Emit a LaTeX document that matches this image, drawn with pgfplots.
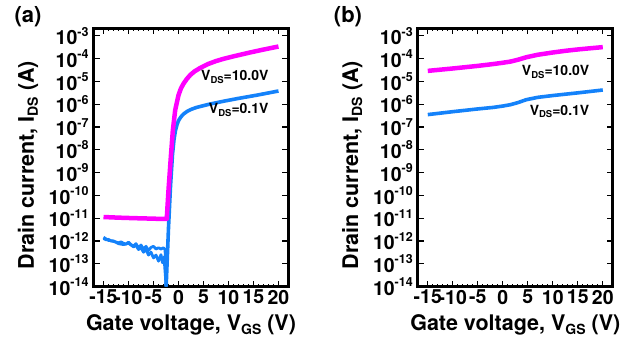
\documentclass[border=0pt]{standalone}
\usepackage{fontspec}
\setmainfont{TeX Gyre Heros}
\usepackage{pgfplots}
\pgfplotsset{compat=1.18}
\definecolor{mag}{RGB}{255,0,255}
\definecolor{blu}{RGB}{20,130,250}
\newcommand{\sub}[1]{\raisebox{-4bp}{\fontsize{14bp}{14bp}\selectfont #1}}
\newcommand{\ssub}[1]{\raisebox{-2.5bp}{\fontsize{9.5bp}{9.5bp}\selectfont #1}}
\newcommand{\sups}[1]{\raisebox{8.5bp}{\fontsize{12.5bp}{12.5bp}\selectfont #1}}
\begin{document}
\begin{tikzpicture}
\path[use as bounding box, fill=white] (0,0) rectangle (629bp,343bp);
% ---------------- (a)
\begin{axis}[at={(93.5bp,56.5bp)}, anchor=south west,
  scale only axis, width=195bp, height=258bp, clip mode=individual,
  ymode=log, log basis y=10,
  xmin=-17, xmax=22, ymin=1e-14, ymax=2.1e-3,
  xtick={-15,-10,-5,0,5,10,15,20},
  xticklabels={-15,-10,-5,0,5,10,15,20},
  minor x tick num=4,
  ytick={1e-14,1e-13,1e-12,1e-11,1e-10,1e-9,1e-8,1e-7,1e-6,1e-5,1e-4,1e-3},
  yticklabels={10\sups{-14},10\sups{-13},10\sups{-12},10\sups{-11},10\sups{-10},10\sups{-9},10\sups{-8},10\sups{-7},10\sups{-6},10\sups{-5},10\sups{-4},10\sups{-3}},
  tick align=inside, major tick length=6bp, minor tick length=3bp,
  tick style={black, line width=1.2bp},
  axis line style={line width=2.8bp},
  ticklabel style={font=\fontsize{19.5bp}{19.5bp}\selectfont\bfseries},
  yticklabel style={xshift=-1.5bp},
  xlabel={Gate voltage, V\sub{GS} (V)},
  ylabel={Drain current, I\sub{DS} (A)},
  xlabel style={font=\fontsize{21.5bp}{22bp}\selectfont\bfseries, at={(axis description cs:0.5,-0.149)},anchor=center},
  ylabel style={font=\fontsize{21.5bp}{22bp}\selectfont\bfseries, at={(axis description cs:-0.336,0.47)},anchor=center},
]
% blue off-state branch 1
\addplot[blu, line width=2.8bp, line join=round] coordinates {
(-15,1.29e-12) (-14.5,1.12e-12) (-14,1.17e-12) (-13.5,1.0e-12) (-13,9.5e-13)
(-12.5,8.9e-13) (-12,8.3e-13) (-11.5,9.1e-13) (-11,7.9e-13) (-10.5,7.2e-13)
(-10,8.9e-13) (-9.5,6.9e-13) (-9,6.0e-13) (-8.5,7.6e-13) (-8,5.0e-13)
(-7.5,6.6e-13) (-7,4.4e-13) (-6.5,5.8e-13) (-6,3.8e-13) (-5.5,5.2e-13)
(-5,5.8e-13) (-4.5,4.4e-13) (-4,5.0e-13) (-3.5,4.4e-13) (-3,5.0e-13)
(-2.7,4.2e-13) (-2.55,1.0e-13) (-2.47,1e-14)};
% blue off-state branch 2
\addplot[blu, line width=2.8bp, line join=round] coordinates {
(-15,1.45e-12) (-14,1.05e-12) (-13,1.0e-12) (-12,7.6e-13) (-11,6.9e-13)
(-10,7.9e-13) (-9,5.5e-13) (-8.5,6.3e-13) (-8,4.2e-13) (-7.5,5.0e-13)
(-7,3.2e-13) (-6.5,4.2e-13) (-6,2.4e-13) (-5.5,3.2e-13) (-5,1.8e-13)
(-4.5,2.4e-13) (-4,1.3e-13) (-3.5,2.5e-13) (-3.2,1.1e-13) (-2.9,2.0e-13)
(-2.7,5.0e-14) (-2.6,2.5e-14) (-2.5,1e-14)};
% blue on-state, VDS = 0.1 V
\addplot[blu, line width=3.6bp, line join=round] coordinates {
(-2.47,1e-14) (-2.0,3.7e-12) (-1.6,2.5e-10) (-1.2,6.3e-9) (-0.9,2.8e-8)
(-0.6,7.1e-8) (-0.3,1.26e-7) (0,1.9e-7) (0.5,2.8e-7) (1.0,3.7e-7)
(1.7,4.8e-7) (2.5,5.9e-7) (3.5,7.1e-7) (4.5,8.1e-7) (6,9.8e-7)
(7.5,1.15e-6) (9,1.35e-6) (12,1.8e-6) (15.7,2.5e-6) (20,3.8e-6)};
% magenta, VDS = 10 V
\addplot[mag, line width=4.5bp, line join=round] coordinates {
(-15,1.12e-11) (-12,1.05e-11) (-9,1.0e-11) (-6,9.6e-12) (-3,9.2e-12)
(-2.35,9.3e-12) (-2.0,1.7e-10) (-1.53,4.9e-9) (-1.13,7.2e-8) (-0.66,5.5e-7)
(-0.3,1.26e-6) (0,2.5e-6) (0.5,5.0e-6) (1.0,7.9e-6) (1.6,1.23e-5)
(2.34,1.9e-5) (3.2,2.75e-5) (4.34,3.9e-5) (6,5.9e-5) (7.5,7.8e-5)
(9,9.8e-5) (11,1.26e-4) (14.3,1.86e-4) (17,2.5e-4) (20,3.4e-4)};
\node[anchor=east, font=\fontsize{14bp}{14bp}\selectfont\bfseries] at (axis cs:18.7,1.6e-5) {V\ssub{DS}=10.0V};
\node[anchor=east, font=\fontsize{14bp}{14bp}\selectfont\bfseries] at (axis cs:18.7,5.5e-7) {V\ssub{DS}=0.1V};
\node[font=\fontsize{22bp}{22bp}\selectfont\bfseries] at (axis description cs:-0.336,1.045) {(a)};
\end{axis}
% ---------------- (b)
\begin{axis}[at={(417.8bp,56.5bp)}, anchor=south west,
  scale only axis, width=195bp, height=258bp, clip mode=individual,
  ymode=log, log basis y=10,
  xmin=-17, xmax=22, ymin=1e-14, ymax=2.1e-3,
  xtick={-15,-10,-5,0,5,10,15,20},
  xticklabels={-15,-10,-5,0,5,10,15,20},
  minor x tick num=4,
  ytick={1e-14,1e-13,1e-12,1e-11,1e-10,1e-9,1e-8,1e-7,1e-6,1e-5,1e-4,1e-3},
  yticklabels={10\sups{-14},10\sups{-13},10\sups{-12},10\sups{-11},10\sups{-10},10\sups{-9},10\sups{-8},10\sups{-7},10\sups{-6},10\sups{-5},10\sups{-4},10\sups{-3}},
  tick align=inside, major tick length=6bp, minor tick length=3bp,
  tick style={black, line width=1.2bp},
  axis line style={line width=2.8bp},
  ticklabel style={font=\fontsize{19.5bp}{19.5bp}\selectfont\bfseries},
  yticklabel style={xshift=-1.5bp},
  xlabel={Gate voltage, V\sub{GS} (V)},
  ylabel={Drain current, I\sub{DS} (A)},
  xlabel style={font=\fontsize{21.5bp}{22bp}\selectfont\bfseries, at={(axis description cs:0.5,-0.149)},anchor=center},
  ylabel style={font=\fontsize{21.5bp}{22bp}\selectfont\bfseries, at={(axis description cs:-0.336,0.47)},anchor=center},
]
\addplot[blu, line width=3.6bp, line join=round] coordinates {
(-15,3.5e-7) (-10,4.7e-7) (-5,6.2e-7) (-2,7.2e-7) (0,8.3e-7) (1.5,9.5e-7)
(3,1.17e-6) (4.7,1.58e-6) (7,2.0e-6) (10,2.4e-6) (12.5,2.75e-6) (15.3,3.2e-6) (20,4.2e-6)};
\addplot[mag, line width=4.5bp, line join=round] coordinates {
(-15,2.9e-5) (-10,3.7e-5) (-5,4.8e-5) (-2,5.75e-5) (0,6.6e-5) (1.5,7.4e-5)
(3,8.9e-5) (4.7,1.15e-4) (7,1.48e-4) (10,1.86e-4) (12.5,2.2e-4) (15.3,2.57e-4) (20,3.2e-4)};
\node[anchor=east, font=\fontsize{14bp}{14bp}\selectfont\bfseries] at (axis cs:18,2.6e-5) {V\ssub{DS}=10.0V};
\node[anchor=east, font=\fontsize{14bp}{14bp}\selectfont\bfseries] at (axis cs:18,4.7e-7) {V\ssub{DS}=0.1V};
\node[font=\fontsize{22bp}{22bp}\selectfont\bfseries] at (axis description cs:-0.358,1.045) {(b)};
\end{axis}
\end{tikzpicture}
\end{document}
